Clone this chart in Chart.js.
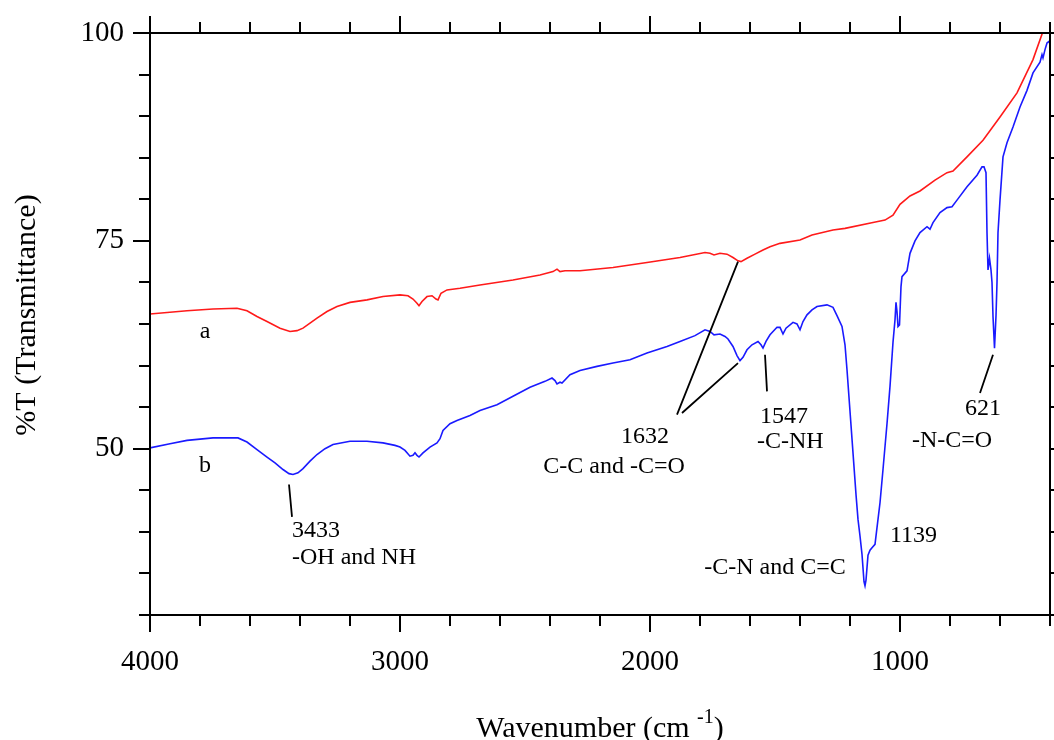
<!DOCTYPE html>
<html>
<head>
<meta charset="utf-8">
<script src="https://cdn.jsdelivr.net/npm/chart.js@4.4.1/dist/chart.umd.min.js"></script>
<style>
  html, body { margin: 0; padding: 0; background: #fff; }
  #wrap { width: 1054px; height: 740px; position: relative; }
</style>
</head>
<body>
<div id="wrap"><canvas id="ftir"></canvas></div>
<script>
// spectrum a (red)
const wnA = [4000, 3852, 3748, 3652, 3612, 3572, 3532, 3480, 3440, 3412, 3388, 3360, 3332, 3292, 3252,
  3200, 3132, 3068, 3000, 2968, 2948, 2932, 2924, 2912, 2892, 2872, 2856, 2848, 2836, 2812, 2760,
  2680, 2548, 2440, 2388, 2372, 2360, 2340, 2280, 2148, 2012, 1880, 1780, 1760, 1744, 1720, 1692,
  1668, 1648, 1636, 1612, 1580, 1548, 1520, 1480, 1400, 1352, 1268, 1220, 1108, 1060, 1028, 1000,
  960, 920, 860, 812, 788, 732, 668, 600, 532, 468, 428, 416];
const tA = [66.2, 66.6, 66.8, 66.9, 66.6, 65.9, 65.3, 64.5, 64.1, 64.2, 64.5, 65.1, 65.7, 66.5, 67.1,
  67.6, 67.9, 68.3, 68.5, 68.4, 68.0, 67.5, 67.2, 67.7, 68.3, 68.4, 68.0, 67.9, 68.7, 69.1, 69.3,
  69.7, 70.3, 70.9, 71.3, 71.6, 71.3, 71.4, 71.4, 71.8, 72.4, 73.0, 73.6, 73.5, 73.3, 73.5, 73.4,
  73.0, 72.6, 72.5, 72.9, 73.4, 73.9, 74.3, 74.7, 75.1, 75.7, 76.3, 76.5, 77.2, 77.5, 78.1, 79.4,
  80.4, 81.0, 82.3, 83.2, 83.4, 85.1, 87.1, 89.9, 92.8, 96.8, 100.2, 101];

// spectrum b (blue)
const wnB = [4000, 3920, 3852, 3748, 3648, 3612, 3572, 3532, 3500, 3468, 3444, 3428, 3408, 3388, 3360,
  3332, 3300, 3268, 3200, 3132, 3068, 3020, 3000, 2980, 2960, 2948, 2940, 2932, 2924, 2908, 2880,
  2852, 2840, 2828, 2800, 2772, 2720, 2680, 2612, 2548, 2480, 2420, 2392, 2380, 2372, 2360, 2352,
  2320, 2280, 2212, 2148, 2080, 2012, 1932, 1880, 1820, 1780, 1760, 1744, 1720, 1700, 1688, 1668,
  1652, 1640, 1628, 1612, 1592, 1568, 1556, 1548, 1536, 1520, 1492, 1480, 1468, 1456, 1428, 1412,
  1400, 1388, 1372, 1352, 1332, 1292, 1268, 1252, 1232, 1220, 1212, 1200, 1188, 1176, 1168, 1160,
  1152, 1144, 1140, 1136, 1128, 1120, 1112, 1100, 1092, 1080, 1068, 1052, 1040, 1028, 1020, 1016,
  1012, 1008, 1002, 996, 992, 972, 960, 940, 920, 892, 880, 868, 840, 812, 792, 772, 732, 692, 672,
  664, 656, 652, 648, 642, 636, 632, 628, 622, 616, 612, 608, 600, 588, 572, 548, 520, 492, 468,
  440, 432, 428, 420, 412, 404, 400];
const tB = [50.1, 50.6, 51.0, 51.3, 51.3, 50.8, 49.9, 49.0, 48.3, 47.5, 47.0, 46.9, 47.1, 47.6, 48.5,
  49.3, 50.0, 50.5, 50.9, 50.9, 50.7, 50.4, 50.2, 49.8, 49.1, 49.2, 49.5, 49.2, 49.0, 49.5, 50.2,
  50.7, 51.2, 52.2, 53.0, 53.4, 54.0, 54.6, 55.3, 56.3, 57.4, 58.1, 58.5, 58.2, 57.8, 58.0, 57.9,
  58.9, 59.4, 59.9, 60.3, 60.7, 61.5, 62.3, 62.9, 63.6, 64.3, 64.1, 63.7, 63.8, 63.5, 63.2, 62.3,
  61.2, 60.6, 61.0, 61.9, 62.5, 62.9, 62.5, 62.1, 62.9, 63.7, 64.6, 64.6, 63.8, 64.5, 65.2, 65.0,
  64.3, 65.3, 66.1, 66.7, 67.1, 67.3, 67.0, 66.0, 64.7, 62.5, 59.5, 54.5, 49.5, 44.5, 41.5, 39.5,
  37.3, 34.0, 33.5, 34.2, 37.2, 37.8, 38.1, 38.5, 40.5, 43.5, 47.5, 53.0, 57.5, 62.8, 65.5, 67.6,
  66.5, 64.7, 64.9, 69.5, 70.7, 71.4, 73.5, 75.0, 76.0, 76.7, 76.4, 77.2, 78.4, 79.0, 79.1, 79.9, 81.5, 82.9, 83.9,
  83.9, 83.2, 76.0, 71.5, 72.9, 71.5, 70.0, 65.9, 62.1, 66.0, 70.0, 76.0, 79.9, 85.1, 86.8, 88.7, 91.1, 93.1, 95.2,
  96.5, 97.4, 97.0, 98.0, 98.8, 99.0, 98.6];

const xTicks = [4000, 3000, 2000, 1000];
const yTicks = [50, 75, 100];

// peak labels, placed in data units (wavenumber, %T)
const labels = [
  { text: 'a', wn: 3780, t: 63.3, align: 'center' },
  { text: 'b', wn: 3780, t: 47.2, align: 'center' },
  { text: '3433', wn: 3432, t: 39.4, align: 'left' },
  { text: '-OH and NH', wn: 3432, t: 36.1, align: 'left' },
  { text: '1632', wn: 2020, t: 50.7, align: 'center' },
  { text: 'C-C and -C=O', wn: 2144, t: 47.1, align: 'center' },
  { text: '1547', wn: 1560, t: 53.1, align: 'left' },
  { text: '-C-NH', wn: 1572, t: 50.1, align: 'left' },
  { text: '-C-N and C=C', wn: 1500, t: 34.9, align: 'center' },
  { text: '1139', wn: 1040, t: 38.8, align: 'left' },
  { text: '621', wn: 740, t: 54.0, align: 'left' },
  { text: '-N-C=O', wn: 952, t: 50.2, align: 'left' },
];
const leaders = [
  [[3444, 45.7], [3432, 41.8]],
  [[1892, 54.1], [1648, 72.5]],
  [[1872, 54.3], [1648, 60.3]],
  [[1540, 61.3], [1532, 56.9]],
  [[628, 61.3], [680, 56.7]],
];

const SERIF = '"Liberation Serif", "Times New Roman", serif';

const toPoints = (xs, ys) => xs.map((w, i) => ({ x: w, y: ys[i] }));

const decorations = {
  id: 'decorations',
  afterDraw(chart) {
    const { ctx, chartArea: a, scales: { x, y } } = chart;
    ctx.save();
    ctx.strokeStyle = '#000';
    ctx.fillStyle = '#000';
    ctx.lineWidth = 2;

    // frame + ticks on all four sides, pointing outwards
    ctx.strokeRect(a.left, a.top, a.right - a.left, a.bottom - a.top);
    ctx.beginPath();
    for (let w = 400; w <= 4000; w += 200) {
      const px = Math.round(x.getPixelForValue(w));
      const len = w % 1000 === 0 ? 17 : 11;
      ctx.moveTo(px, a.bottom); ctx.lineTo(px, a.bottom + len);
      ctx.moveTo(px, a.top); ctx.lineTo(px, a.top - len);
    }
    for (let v = 30; v <= 100; v += 5) {
      const py = Math.round(y.getPixelForValue(v));
      const len = v % 25 === 0 ? 17 : 11;
      ctx.moveTo(a.left, py); ctx.lineTo(a.left - len, py);
      ctx.moveTo(a.right, py); ctx.lineTo(a.right + len, py);
    }
    ctx.stroke();

    // leader lines
    ctx.lineWidth = 1.8;
    ctx.beginPath();
    leaders.forEach(([p, q]) => {
      ctx.moveTo(x.getPixelForValue(p[0]), y.getPixelForValue(p[1]));
      ctx.lineTo(x.getPixelForValue(q[0]), y.getPixelForValue(q[1]));
    });
    ctx.stroke();

    // peak labels
    ctx.font = '24px ' + SERIF;
    ctx.textBaseline = 'alphabetic';
    labels.forEach(l => {
      ctx.textAlign = l.align;
      ctx.fillText(l.text, x.getPixelForValue(l.wn), y.getPixelForValue(l.t));
    });

    // x axis title with superscript
    const main = 'Wavenumber (cm ';
    ctx.font = '30px ' + SERIF;
    const wMain = ctx.measureText(main).width;
    const wClose = ctx.measureText(')').width;
    ctx.font = '20px ' + SERIF;
    const wSup = ctx.measureText('-1').width;
    const cx = (a.left + a.right) / 2;
    let tx = cx - (wMain + wSup + wClose) / 2;
    ctx.textAlign = 'left';
    ctx.font = '30px ' + SERIF;
    ctx.fillText(main, tx, 737);
    tx += wMain;
    ctx.font = '20px ' + SERIF;
    ctx.fillText('-1', tx, 723);
    tx += wSup;
    ctx.font = '30px ' + SERIF;
    ctx.fillText(')', tx, 737);

    // y axis title
    ctx.translate(35, 315);
    ctx.rotate(-Math.PI / 2);
    ctx.textAlign = 'center';
    ctx.fillText('%T (Transmittance)', 0, 0);
    ctx.restore();
  }
};

const ctx = document.getElementById('ftir').getContext('2d');
const ftirChart = new Chart(ctx, {
  type: 'line',
  data: {
    datasets: [
      {
        label: 'a',
        data: toPoints(wnA, tA),
        borderColor: '#ff1a1a',
        borderWidth: 1.6,
        pointRadius: 0,
        tension: 0,
      },
      {
        label: 'b',
        data: toPoints(wnB, tB),
        borderColor: '#1a1aff',
        borderWidth: 1.6,
        pointRadius: 0,
        tension: 0,
      },
    ],
  },
  options: {
    responsive: true,
    maintainAspectRatio: false,
    animation: false,
    devicePixelRatio: 1,
    layout: { padding: { top: 33, right: 4, left: 0, bottom: 0 } },
    plugins: {
      legend: { display: false },
      tooltip: { enabled: false },
    },
    scales: {
      x: {
        type: 'linear',
        reverse: true,
        min: 400,
        max: 4000,
        grid: { display: false, drawTicks: false },
        border: { display: false },
        afterBuildTicks: s => { s.ticks = xTicks.map(v => ({ value: v })); },
        afterFit: s => { s.height = 125; s.paddingLeft = 0; s.paddingRight = 0; },
        ticks: {
          autoSkip: false,
          maxRotation: 0,
          padding: 30,
          color: '#000',
          font: { family: SERIF, size: 29 },
          callback: v => String(v),
        },
      },
      y: {
        min: 30,
        max: 100,
        grid: { display: false, drawTicks: false },
        border: { display: false },
        afterBuildTicks: s => { s.ticks = yTicks.map(v => ({ value: v })); },
        afterFit: s => { s.width = 150; s.paddingTop = 0; s.paddingBottom = 0; },
        ticks: {
          padding: 26,
          color: '#000',
          font: { family: SERIF, size: 29 },
          callback: v => String(v),
        },
      },
    },
  },
  plugins: [decorations],
});
</script>
</body>
</html>
